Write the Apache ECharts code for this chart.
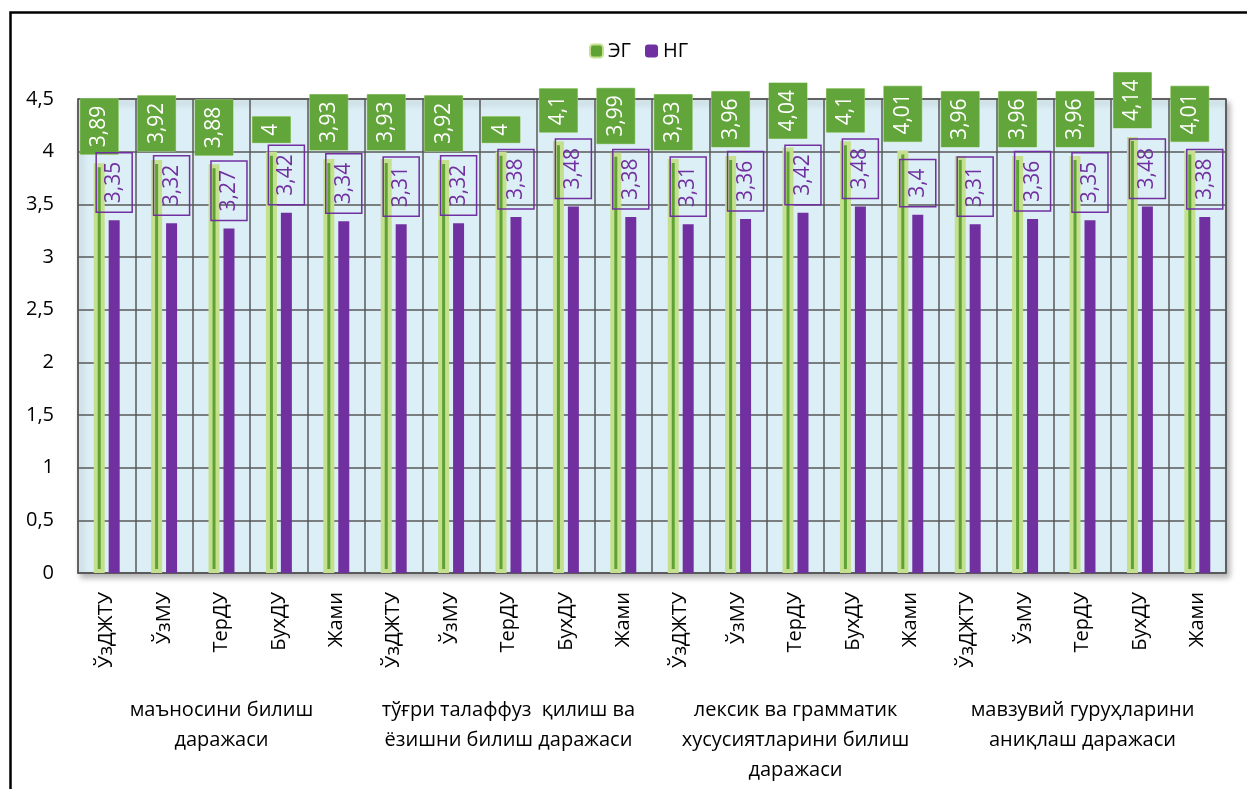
<!DOCTYPE html>
<html>
<head>
<meta charset="utf-8">
<script src="https://cdn.jsdelivr.net/npm/echarts@6/dist/echarts.min.js"></script>
<style>
  html, body { margin: 0; padding: 0; background: #fff; }
  #main { width: 1247px; height: 789px; }
</style>
</head>
<body>
<div id="main"></div>
<script>
const categories = ['ЎзДЖТУ', 'ЎзМУ', 'ТерДУ', 'БухДУ', 'Жами',
  'ЎзДЖТУ', 'ЎзМУ', 'ТерДУ', 'БухДУ', 'Жами',
  'ЎзДЖТУ', 'ЎзМУ', 'ТерДУ', 'БухДУ', 'Жами',
  'ЎзДЖТУ', 'ЎзМУ', 'ТерДУ', 'БухДУ', 'Жами'];
const groups = ['маъносини билиш\nдаражаси',
  'тўғри талаффуз  қилиш ва\nёзишни билиш даражаси',
  'лексик ва грамматик\nхусусиятларини билиш\nдаражаси',
  'мавзувий гуруҳларини\nаниқлаш даражаси'];
const egValues = [3.89, 3.92, 3.88, 4, 3.93, 3.93, 3.92, 4, 4.1, 3.99,
  3.93, 3.96, 4.04, 4.1, 4.01, 3.96, 3.96, 3.96, 4.14, 4.01];
const ngValues = [3.35, 3.32, 3.27, 3.42, 3.34, 3.31, 3.32, 3.38, 3.48, 3.38,
  3.31, 3.36, 3.42, 3.48, 3.4, 3.31, 3.36, 3.35, 3.48, 3.38];

const FONT = 'Open Sans';
const gridColor = '#595959';
const comma = v => String(v).replace('.', ',');

const chart = echarts.init(document.getElementById('main'));
const option = {
  animation: false,
  textStyle: { fontFamily: FONT },
  graphic: [{
    type: 'rect', left: 8, top: 10,
    shape: { width: 1300, height: 900 },
    style: { fill: 'none', stroke: '#000', lineWidth: 2.5 }
  }],
  legend: {
    top: 36, left: 584,
    itemWidth: 13, itemHeight: 13, itemGap: 14,
    textStyle: { fontSize: 20, color: '#000', fontFamily: FONT },
    data: ['ЭГ', 'НГ']
  },
  grid: {
    show: true, left: 78, right: 21, top: 99, bottom: 216,
    backgroundColor: '#ddeff6', borderColor: gridColor, borderWidth: 1.5,
    shadowColor: 'rgba(0,0,0,0.3)', shadowBlur: 6, shadowOffsetX: 3, shadowOffsetY: 4
  },
  xAxis: [{
    type: 'category', data: categories,
    axisLine: { show: true, lineStyle: { color: gridColor, width: 1.5 } },
    axisTick: { show: false },
    splitLine: { show: true, interval: 0, lineStyle: { color: gridColor, width: 1.5 } },
    axisLabel: { rotate: 90, interval: 0, margin: 19, fontSize: 20, color: '#000' }
  }, {
    type: 'category', data: groups, position: 'bottom', offset: 114,
    axisLine: { show: false }, axisTick: { show: false }, splitLine: { show: false },
    axisLabel: { interval: 0, margin: 8, fontSize: 20, lineHeight: 30, color: '#000' }
  }],
  yAxis: {
    type: 'value', min: 0, max: 4.5, interval: 0.5,
    axisLine: { show: false }, axisTick: { show: false },
    splitLine: { lineStyle: { color: gridColor, width: 1.5 } },
    axisLabel: { fontSize: 20, color: '#000', margin: 24, formatter: comma }
  },
  series: [{
    name: 'ЭГ', type: 'bar', data: egValues,
    barWidth: 11, barGap: '36%',
    itemStyle: { color: '#5ea234', borderColor: '#c4e08e', borderWidth: 4 },
    label: {
      show: true, position: 'top', distance: 9, rotate: 90,
      align: 'left', verticalAlign: 'middle',
      color: '#fff', fontSize: 21, lineHeight: 22,
      backgroundColor: '#62a53a', borderColor: '#9fcf7a', borderWidth: 0.5,
      padding: [8, 7], formatter: p => comma(p.value)
    }
  }, {
    name: 'НГ', type: 'bar', data: ngValues,
    barWidth: 11,
    itemStyle: { color: '#7030a0' },
    label: {
      show: true, position: 'top', distance: 8, rotate: 90,
      align: 'left', verticalAlign: 'middle',
      color: '#7030a0', fontSize: 21, lineHeight: 22,
      borderColor: '#7030a0', borderWidth: 1.5,
      padding: [7, 9], formatter: p => comma(p.value)
    }
  }]
};
chart.setOption(option);
</script>
</body>
</html>
